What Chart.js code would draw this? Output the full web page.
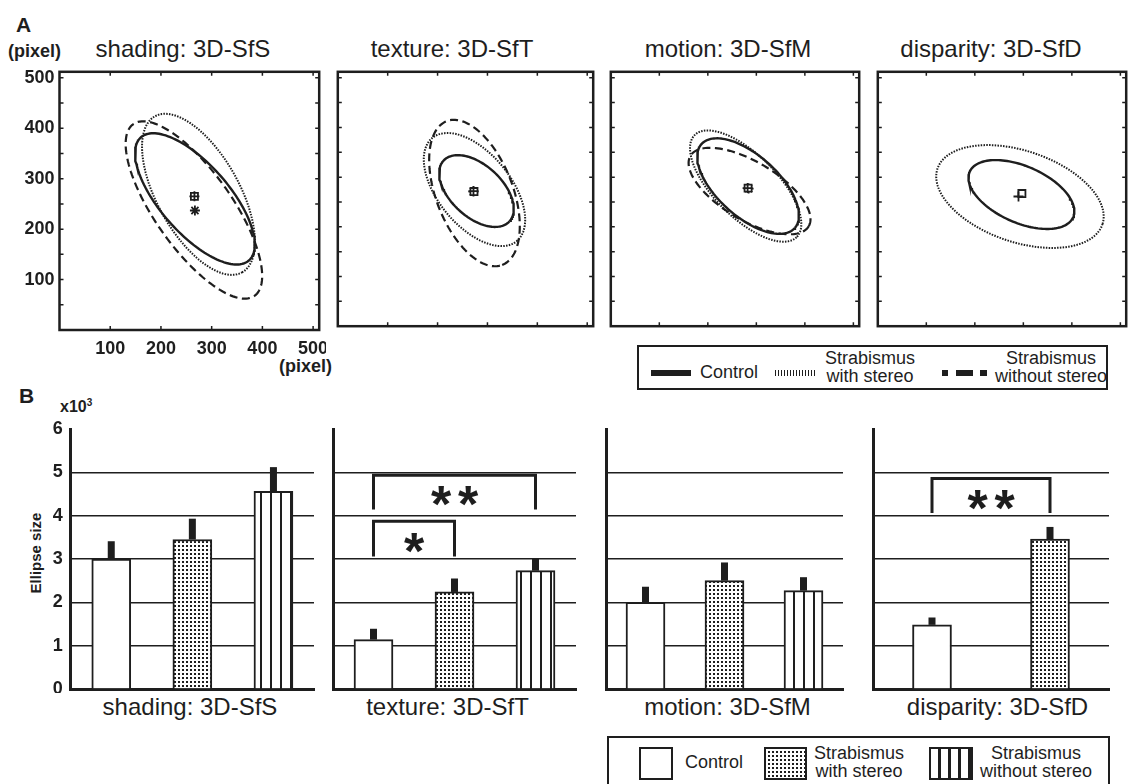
<!DOCTYPE html>
<html>
<head>
<meta charset="utf-8">
<script src="https://cdn.jsdelivr.net/npm/chart.js@4.4.1/dist/chart.umd.min.js"></script>
<style>
  body { margin: 0; background: #fff; }
  #fig { position: relative; width: 1137px; height: 784px; overflow: hidden; font-family: "Liberation Sans", Arial, sans-serif; color: #1e1e1e; }
  #fig canvas { position: absolute; }
  .t { position: absolute; white-space: nowrap; line-height: 1; }
  .b { font-weight: bold; }
  .c { transform: translateX(-50%); text-align: center; }
  .ttl { font-size: 24px; }
  .leg { position: absolute; border: 2px solid #1e1e1e; box-sizing: border-box; }
  .lt { font-size: 18px; line-height: 18.4px; }
  .sw { position: absolute; box-sizing: border-box; }
</style>
</head>
<body>
<div id="fig">
  <div class="t b" style="left:16px;top:14px;font-size:21px;">A</div>
  <div class="t b" style="left:8px;top:42px;font-size:18px;">(pixel)</div>
  <div class="t b" style="right:805px;top:357px;font-size:18px;">(pixel)</div>
  <div class="t c ttl" id="ta0" style="left:183px;top:37px;"></div>
  <div class="t c ttl" id="ta1" style="left:452px;top:37px;"></div>
  <div class="t c ttl" id="ta2" style="left:728px;top:37px;"></div>
  <div class="t c ttl" id="ta3" style="left:991px;top:37px;"></div>

  <canvas id="a0" width="326" height="295" style="left:0px;top:65px;"></canvas>
  <canvas id="a1" width="269" height="268" style="left:330.7px;top:65px;"></canvas>
  <canvas id="a2" width="262" height="268" style="left:604.3px;top:65px;"></canvas>
  <canvas id="a3" width="262" height="268" style="left:871.3px;top:65px;"></canvas>

  <!-- legend A -->
  <div class="leg" style="left:636.7px;top:345px;width:471px;height:45px;"></div>
  <div class="sw" style="left:650.7px;top:370px;width:40px;height:5.5px;background:#1e1e1e;"></div>
  <div class="t lt" id="la0" style="left:700px;top:363px;"></div>
  <div class="sw" style="left:775px;top:369.5px;width:41px;height:6px;background:repeating-linear-gradient(90deg,#1e1e1e 0 1.2px,#fff 1.2px 3px);"></div>
  <div class="t c lt" id="la1" style="left:870px;top:349px;"></div>
  <div class="sw" style="left:941.7px;top:369.5px;width:6.7px;height:6px;background:#1e1e1e;"></div>
  <div class="sw" style="left:956px;top:369.5px;width:17.3px;height:6px;background:#1e1e1e;"></div>
  <div class="sw" style="left:980px;top:369.5px;width:6.7px;height:6px;background:#1e1e1e;"></div>
  <div class="t c lt" id="la2" style="left:1051px;top:349px;"></div>

  <div class="t b" style="left:19px;top:385px;font-size:21px;">B</div>
  <div class="t b" style="left:60px;top:398px;font-size:16px;">x10<sup style="font-size:10px;vertical-align:6px;">3</sup></div>
  <div class="t b" style="left:35px;top:553px;font-size:15px;transform:translate(-50%,-50%) rotate(-90deg);">Ellipse size</div>

  <canvas id="b0" width="316" height="274" style="left:0px;top:419.3px;"></canvas>
  <canvas id="b1" width="248" height="274" style="left:329.7px;top:419.3px;"></canvas>
  <canvas id="b2" width="242" height="274" style="left:603px;top:419.3px;"></canvas>
  <canvas id="b3" width="241" height="274" style="left:870.3px;top:419.3px;"></canvas>

  <div class="t c ttl" id="tb0" style="left:190px;top:695px;"></div>
  <div class="t c ttl" id="tb1" style="left:447.5px;top:695px;"></div>
  <div class="t c ttl" id="tb2" style="left:727.5px;top:695px;"></div>
  <div class="t c ttl" id="tb3" style="left:997.5px;top:695px;"></div>

  <!-- legend B -->
  <div class="leg" style="left:607.3px;top:736px;width:503px;height:60px;"></div>
  <div class="sw" style="left:639.3px;top:746.7px;width:33.4px;height:33.3px;border:2.5px solid #1e1e1e;background:#fff;"></div>
  <div class="t lt" id="lb0" style="left:685px;top:753px;"></div>
  <div class="sw" style="left:764px;top:746.7px;width:43px;height:33.3px;border:2.5px solid #1e1e1e;background-color:#fff;background-image:linear-gradient(90deg,#fff 50%,transparent 50%),linear-gradient(#fff 50%,#1e1e1e 50%);background-size:4px 4px;"></div>
  <div class="t c lt" id="lb1" style="left:859px;top:743.6px;"></div>
  <div class="sw" style="left:929px;top:746.7px;width:44px;height:33.3px;border:2.5px solid #1e1e1e;background:repeating-linear-gradient(90deg,#fff 0 7.5px,#1e1e1e 7.5px 10px);"></div>
  <div class="t c lt" id="lb2" style="left:1036px;top:743.6px;"></div>
</div>

<script>
const FONT = '"Liberation Sans", Arial, sans-serif';
const INK = "#1e1e1e";

// ---- data ----
const panelNames = ["shading: 3D-SfS", "texture: 3D-SfT", "motion: 3D-SfM", "disparity: 3D-SfD"];
const groupNames = ["Control", "Strabismus\nwith stereo", "Strabismus\nwithout stereo"];

// panel A axes (pixel)
const axisTicksX = [100, 200, 300, 400, 500];
const axisTicksY = [50, 100, 150, 200, 250, 300, 350, 400, 450, 500];

// ellipses: [centre x, centre y, semi-major, semi-minor, angle deg]
const controlEllipse = [[267, 260, 162, 68, -49], [278, 272, 90, 52, -43], [283, 282, 128, 62, -41], [296, 265, 116, 57, -23]];
const stereoEllipse = [[274, 269, 177, 81, -61], [274, 275, 134, 73, -51], [278, 282, 147, 64, -44], [293, 261, 179, 92, -18]];
const noStereoEllipse = [[265, 238, 208, 76, -55], [274, 268, 155, 77, -69], [286, 272, 141, 59, -30], null];

// centres of gaze
const controlCentre = [[266, 265], [272, 272], [282, 278], [290, 261]];
const stereoCentre = [[266, 265], [273, 271], [283, 278], [297, 267]];
const noStereoCentre = [[267, 237], [272, 271], [284, 277], null];

// panel B: ellipse size (x10^3), mean and upper error
const barTicks = [0, 1, 2, 3, 4, 5, 6];
const shadingMean = [3.0, 3.45, 4.56];
const shadingErr = [0.41, 0.48, 0.56];
const textureMean = [1.14, 2.24, 2.73];
const textureErr = [0.25, 0.31, 0.27];
const motionMean = [2.0, 2.5, 2.27];
const motionErr = [0.36, 0.42, 0.31];
const disparityMean = [1.48, 3.46];
const disparityErr = [0.17, 0.28];

// significance brackets (category index from/to, y values)
const textureSig = [{ from: 0, to: 2, top: 4.93, foot: 4.14, label: "**" }, { from: 0, to: 1, top: 3.87, foot: 3.06, label: "*" }];
const disparitySig = [{ from: 0, to: 1, top: 4.86, foot: 4.06, label: "**" }];

// ---- text ----
panelNames.forEach((n, i) => {
  document.getElementById("ta" + i).textContent = n;
  document.getElementById("tb" + i).textContent = n;
});
groupNames.forEach((g, i) => {
  document.getElementById("la" + i).innerHTML = g.replace("\n", "<br>");
  document.getElementById("lb" + i).innerHTML = g.replace("\n", "<br>");
});

// ---- helpers ----
const ellipsePoints = (e) => {
  const [cx, cy, a, b, deg] = e;
  const th = (deg * Math.PI) / 180;
  const pts = [];
  for (let i = 0; i <= 144; i++) {
    const t = (i / 144) * 2 * Math.PI;
    pts.push({
      x: cx + a * Math.cos(t) * Math.cos(th) - b * Math.sin(t) * Math.sin(th),
      y: cy + a * Math.cos(t) * Math.sin(th) + b * Math.sin(t) * Math.cos(th)
    });
  }
  return pts;
};

// fixed axis size, no extra label overhang
const fixSize = (w, h) => (s) => {
  if (w !== null) s.width = w;
  if (h !== null) s.height = h;
  s.paddingTop = 0; s.paddingBottom = 0; s.paddingLeft = 0; s.paddingRight = 0;
};

const frameTicks = {
  id: "frameTicks",
  afterDraw(chart) {
    const { ctx, chartArea: a, scales: { x, y } } = chart;
    ctx.save();
    ctx.strokeStyle = INK;
    ctx.lineWidth = 1.5;
    ctx.beginPath();
    x.ticks.forEach((t) => {
      const px = x.getPixelForValue(t.value);
      ctx.moveTo(px, a.top); ctx.lineTo(px, a.top + 4);
      ctx.moveTo(px, a.bottom); ctx.lineTo(px, a.bottom - 4);
    });
    y.ticks.forEach((t) => {
      const py = y.getPixelForValue(t.value);
      ctx.moveTo(a.left, py); ctx.lineTo(a.left + 4, py);
      ctx.moveTo(a.right, py); ctx.lineTo(a.right - 4, py);
    });
    ctx.stroke();
    ctx.lineWidth = 2.5;
    ctx.strokeRect(a.left, a.top, a.right - a.left, a.bottom - a.top);
    ctx.restore();
  }
};

const makeEllipseChart = (i) => {
  const first = i === 0;
  const datasets = [];
  const line = (e, dash, w) => ({
    type: "scatter", data: ellipsePoints(e), showLine: true, pointRadius: 0,
    borderColor: INK, borderWidth: w, borderDash: dash, fill: false, tension: 0
  });
  const mark = (p, style) => ({
    type: "scatter", data: [{ x: p[0], y: p[1] }], pointStyle: style, pointRadius: 5,
    borderColor: INK, backgroundColor: "#fff", pointBorderWidth: 1.8
  });
  datasets.push(line(controlEllipse[i], [], 2.4));
  datasets.push(line(stereoEllipse[i], [1.5, 1.3], 2));
  if (noStereoEllipse[i]) datasets.push(line(noStereoEllipse[i], [8, 4.5], 2.2));
  datasets.push(mark(controlCentre[i], "cross"));
  datasets.push(mark(stereoCentre[i], "rect"));
  if (noStereoCentre[i]) datasets.push(mark(noStereoCentre[i], "star"));

  new Chart(document.getElementById("a" + i), {
    type: "scatter",
    data: { datasets },
    options: {
      responsive: false,
      animation: false,
      layout: { padding: first ? { top: 3, right: 3.5, bottom: 0, left: 0 } : 3 },
      plugins: { legend: { display: false }, tooltip: { enabled: false } },
      scales: {
        x: {
          type: "linear", min: 0, max: 512,
          afterBuildTicks: (s) => { s.ticks = axisTicksX.map((v) => ({ value: v })); },
          afterFit: fixSize(null, first ? 30 : 0),
          ticks: { display: first, color: INK, padding: 8, maxRotation: 0, font: { family: FONT, size: 18, weight: "bold" } },
          grid: { display: false, drawTicks: false },
          border: { display: false }
        },
        y: {
          type: "linear", min: 0, max: 512,
          afterBuildTicks: (s) => { s.ticks = axisTicksY.map((v) => ({ value: v })); },
          afterFit: fixSize(first ? 59.5 : 0, null),
          ticks: {
            display: first, color: INK, padding: 5,
            font: { family: FONT, size: 18, weight: "bold" },
            callback: (v) => (v % 100 === 0 ? v : "")
          },
          grid: { display: false, drawTicks: false },
          border: { display: false }
        }
      }
    },
    plugins: [frameTicks]
  });
};

// fills for bars
const tile = (w, h, draw) => {
  const c = document.createElement("canvas");
  c.width = w; c.height = h;
  const g = c.getContext("2d");
  g.fillStyle = "#fff"; g.fillRect(0, 0, w, h);
  g.fillStyle = INK; draw(g);
  return g.createPattern(c, "repeat");
};
const dotFill = tile(4, 4, (g) => g.fillRect(2, 2, 2, 2));
const stripeFill = tile(10, 4, (g) => g.fillRect(0, 0, 2, 4));
const barFills = ["#fff", dotFill, stripeFill];

const errBars = {
  id: "errBars",
  afterDatasetsDraw(chart) {
    const { ctx, scales: { y } } = chart;
    const ds = chart.data.datasets[0];
    ctx.save();
    ctx.fillStyle = INK;
    chart.getDatasetMeta(0).data.forEach((bar, i) => {
      const top = y.getPixelForValue(ds.data[i] + ds.errs[i]);
      ctx.fillRect(bar.x - 3.5, top, 7, bar.y - top);
    });
    ctx.restore();
  }
};

const sigBrackets = (items) => ({
  id: "sigBrackets",
  afterDatasetsDraw(chart) {
    const { ctx, scales: { x, y } } = chart;
    items.forEach((b) => {
      const x0 = x.getPixelForValue(b.from), x1 = x.getPixelForValue(b.to);
      const yt = y.getPixelForValue(b.top), yf = y.getPixelForValue(b.foot);
      ctx.save();
      ctx.strokeStyle = INK; ctx.lineWidth = 3;
      ctx.beginPath();
      ctx.moveTo(x0, yf); ctx.lineTo(x0, yt); ctx.lineTo(x1, yt); ctx.lineTo(x1, yf);
      ctx.stroke();
      ctx.fillStyle = INK;
      ctx.font = `bold 52px ${FONT}`;
      ctx.textAlign = "center";
      ctx.textBaseline = "alphabetic";
      const n = b.label.length, mx = (x0 + x1) / 2, my = (yt + yf) / 2;
      for (let k = 0; k < n; k++) ctx.fillText("*", mx + (k - (n - 1) / 2) * 27, my + 30);
      ctx.restore();
    });
  }
});

const makeBarChart = (i, means, errs, sig) => {
  const first = i === 0;
  new Chart(document.getElementById("b" + i), {
    type: "bar",
    data: {
      labels: groupNames.slice(0, means.length),
      datasets: [{
        data: means, errs,
        backgroundColor: barFills.slice(0, means.length),
        borderColor: INK, borderWidth: 2, barThickness: 39
      }]
    },
    options: {
      responsive: false,
      animation: false,
      layout: { padding: { top: 10, right: 2, bottom: 4, left: first ? 0 : 3 } },
      plugins: { legend: { display: false }, tooltip: { enabled: false } },
      scales: {
        x: {
          offset: true,
          ticks: { display: false },
          grid: { display: false, drawTicks: false },
          border: { display: true, width: 3, color: INK },
          afterFit: fixSize(null, 0)
        },
        y: {
          min: 0, max: 6,
          afterBuildTicks: (s) => { s.ticks = barTicks.map((v) => ({ value: v })); },
          afterFit: fixSize(first ? 70.7 : 0, null),
          ticks: { display: first, color: INK, padding: 8, font: { family: FONT, size: 18, weight: "bold" } },
          grid: {
            drawTicks: false, lineWidth: 1.5,
            color: (c) => (c.tick && c.tick.value > 0 && c.tick.value < 6 ? INK : "rgba(0,0,0,0)")
          },
          border: { display: true, width: 3, color: INK }
        }
      }
    },
    plugins: [errBars, sigBrackets(sig)]
  });
};

[0, 1, 2, 3].forEach(makeEllipseChart);
makeBarChart(0, shadingMean, shadingErr, []);
makeBarChart(1, textureMean, textureErr, textureSig);
makeBarChart(2, motionMean, motionErr, []);
makeBarChart(3, disparityMean, disparityErr, disparitySig);
</script>
</body>
</html>
